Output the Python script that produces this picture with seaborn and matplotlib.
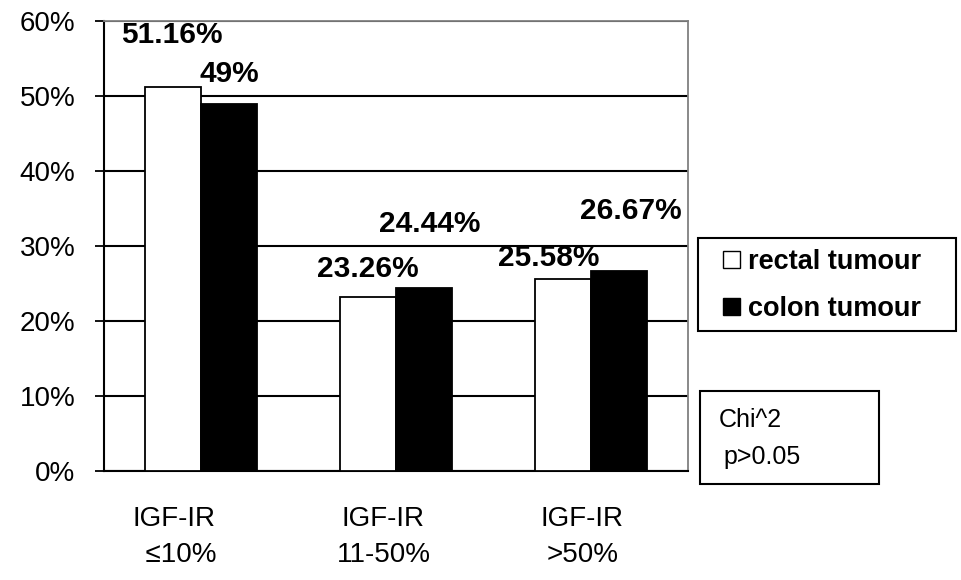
import pandas as pd
import matplotlib
matplotlib.use("Agg")
import matplotlib.pyplot as plt
import matplotlib.patches as mpatches
import seaborn as sns

CATEGORIES = ["IGF-IR\n  ≤10%", "IGF-IR\n11-50%", "IGF-IR\n>50%"]
SERIES     = ["rectal tumour", "colon tumour"]
RECTAL     = [51.16, 23.26, 25.58]
COLON      = [49.0, 24.44, 26.67]
LABELS     = [["51.16%", "23.26%", "25.58%"], ["49%", "24.44%", "26.67%"]]
YTICKS     = [0, 10, 20, 30, 40, 50, 60]

# label nudges (category units, percent units) - placed by hand in the original
LABEL_DX = [[-0.01, 0.0, -0.07], [0.0, 0.03, 0.06]]
LABEL_DY = [[7.0, 3.7, 2.8], [3.9, 8.5, 8.0]]
XLABEL_SHIFT_PT = [-20, -9, -6]

df = pd.DataFrame({
    "group": CATEGORIES * 2,
    "series": [SERIES[0]] * 3 + [SERIES[1]] * 3,
    "value": RECTAL + COLON,
})

sns.set_style("white")
plt.rcParams["font.family"] = ["Liberation Sans", "DejaVu Sans"]
plt.rcParams.update({"text.color": "black", "xtick.color": "black",
                     "ytick.color": "black", "axes.labelcolor": "black"})

W, H = 961, 580
fig = plt.figure(figsize=(W / 100, H / 100), dpi=100)
ax = fig.add_axes([104 / W, 1 - 471 / H, (688 - 104) / W, (471 - 21) / H])

sns.barplot(data=df, x="group", y="value", hue="series", order=CATEGORIES,
            hue_order=SERIES, palette=["white", "black"], edgecolor="black",
            linewidth=1.3, width=0.575, ax=ax, legend=False, zorder=3)

ax.set_ylim(0, 60)
ax.set_xlim(-0.5, 2.5)
ax.set_yticks(YTICKS)
ax.set_yticklabels([f"{t}%" for t in YTICKS], fontsize=20)
ax.yaxis.grid(True, color="black", linewidth=1.5, zorder=0)
ax.set_axisbelow(True)
ax.set_xlabel("")
ax.set_ylabel("")

# x: tick marks between groups, labels drawn under groups (slightly left, as in the original)
ax.set_xticks(range(len(CATEGORIES)))
ax.set_xticklabels([])
ax.set_xticks([-0.5, 0.5, 1.5, 2.5], minor=True)
ax.tick_params(axis="x", which="major", length=0)
ax.tick_params(axis="x", which="minor", length=6.5, width=1.3, color="black", direction="out")
ax.tick_params(axis="y", length=6.5, width=1.3, color="black", direction="out", pad=14, left=True)
for k, (cat, dx) in enumerate(zip(CATEGORIES, XLABEL_SHIFT_PT)):
    ax.annotate(cat, xy=(k, 0), xycoords=("data", "axes fraction"),
                xytext=(dx, -25), textcoords="offset points",
                ha="center", va="top", fontsize=20, linespacing=1.5,
                annotation_clip=False)

for side in ["left", "bottom"]:
    ax.spines[side].set_color("black")
    ax.spines[side].set_linewidth(1.5)
for side in ["top", "right"]:
    ax.spines[side].set_color("#808080")
    ax.spines[side].set_linewidth(1.3)

for i, cont in enumerate(ax.containers):
    for j, bar in enumerate(cont):
        x = bar.get_x() + bar.get_width() / 2 + LABEL_DX[i][j]
        y = bar.get_height() + LABEL_DY[i][j]
        ax.text(x, y, LABELS[i][j], ha="center", va="center",
                fontsize=21.5, fontweight="bold", zorder=5, clip_on=False)

# legend frame drawn separately so it can be wider than its contents
frame = mpatches.Rectangle((698 / W, 1 - 331 / H), (956 - 698) / W, (331 - 238) / H,
                           transform=fig.transFigure, facecolor="white",
                           edgecolor="black", linewidth=1.5)
fig.patches.append(frame)
handles = [mpatches.Patch(facecolor=c, edgecolor="black", linewidth=1) for c in ["white", "black"]]
leg = fig.legend(handles, SERIES, loc="upper left",
                 bbox_to_anchor=(718 / W, 1 - 244 / H), bbox_transform=fig.transFigure,
                 prop={"size": 19.5, "weight": "bold"}, frameon=False,
                 handlelength=0.6, handleheight=0.6, handletextpad=0.3,
                 labelspacing=0.75, borderpad=0.2, borderaxespad=0)

box = mpatches.Rectangle((700 / W, 1 - 484 / H), (879 - 700) / W, (484 - 391) / H,
                         transform=fig.transFigure, facecolor="white",
                         edgecolor="black", linewidth=1.5)
fig.patches.append(box)
fig.text(719 / W, 1 - 420 / H, "Chi^2", fontsize=18, va="center", ha="left")
fig.text(723 / W, 1 - 457 / H, "p>0.05", fontsize=18, va="center", ha="left")

fig.savefig("out.png", dpi=100)
